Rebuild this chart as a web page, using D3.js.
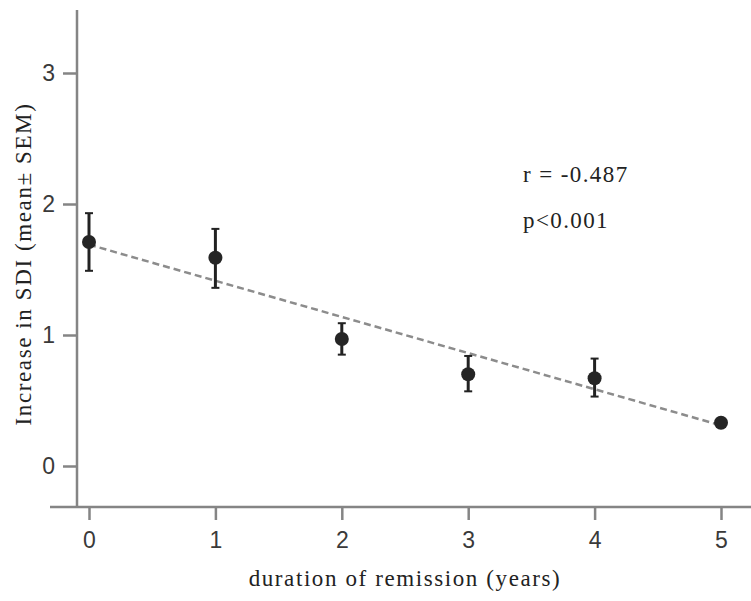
<!DOCTYPE html>
<html>
<head>
<meta charset="utf-8">
<script src="https://cdn.jsdelivr.net/npm/d3@7"></script>
<style>
  body { margin: 0; background: #fff; }
  .tick_lbl { font-family: "Liberation Sans", Arial, sans-serif; font-size: 23px; fill: #3a3a3a; }
  .ax_title { font-family: "Liberation Serif", "Times New Roman", serif; font-size: 23px; fill: #222; letter-spacing: 1.6px; }
  .stat { font-family: "Liberation Serif", "Times New Roman", serif; font-size: 23px; fill: #222; letter-spacing: 1.4px; }
</style>
</head>
<body>
<div id="chart"></div>
<script>
// data
var years = [0, 1, 2, 3, 4, 5];
var sdi_mean = [1.71, 1.59, 0.97, 0.70, 0.67, 0.33];
var sdi_upper = [1.93, 1.81, 1.09, 0.84, 0.82, 0.36];
var sdi_lower = [1.49, 1.36, 0.85, 0.57, 0.53, 0.30];
var fit_x = [0, 5];
var fit_y = [1.69, 0.31];
var x_ticks = [0, 1, 2, 3, 4, 5];
var y_ticks = [0, 1, 2, 3];
var stat_lines = ['r = -0.487', 'p<0.001'];

var width = 751, height = 601;
var svg = d3.select('#chart').append('svg').attr('width', width).attr('height', height);

var x_scale = d3.scaleLinear().domain([0, 5]).range([89, 721]);
var y_scale = d3.scaleLinear().domain([0, 3]).range([466, 73]);
var axis_col = '#858585';
var x_axis_y = 507, y_axis_x = 77;

// axes
var x_axis = svg.append('g').attr('transform', 'translate(0,' + x_axis_y + ')')
    .call(d3.axisBottom(x_scale).tickValues(x_ticks).tickSize(13).tickPadding(12).tickFormat(d3.format('d')));
x_axis.select('.domain').remove();
x_axis.append('line').attr('x1', 50).attr('x2', width).attr('y1', 0).attr('y2', 0);
var y_axis = svg.append('g').attr('transform', 'translate(' + y_axis_x + ',0)')
    .call(d3.axisLeft(y_scale).tickValues(y_ticks).tickSize(14).tickPadding(8).tickFormat(d3.format('d')));
y_axis.select('.domain').remove();
y_axis.append('line').attr('x1', 0).attr('x2', 0).attr('y1', 10).attr('y2', x_axis_y);
svg.selectAll('.tick line, g > line').attr('stroke', axis_col).attr('stroke-width', 2.5);
svg.selectAll('.tick text').attr('class', 'tick_lbl');

// regression line
svg.append('line')
    .attr('x1', x_scale(fit_x[0])).attr('y1', y_scale(fit_y[0]))
    .attr('x2', x_scale(fit_x[1])).attr('y2', y_scale(fit_y[1]))
    .attr('stroke', '#8c8c8c').attr('stroke-width', 2.5).attr('stroke-dasharray', '7,4');

// error bars + points
var g = svg.append('g');
years.forEach(function (yr, i) {
    var cx = x_scale(yr);
    g.append('line').attr('x1', cx).attr('x2', cx)
        .attr('y1', y_scale(sdi_upper[i])).attr('y2', y_scale(sdi_lower[i]))
        .attr('stroke', '#222').attr('stroke-width', 3);
    [sdi_upper[i], sdi_lower[i]].forEach(function (v) {
        g.append('line').attr('x1', cx - 4).attr('x2', cx + 4)
            .attr('y1', y_scale(v)).attr('y2', y_scale(v))
            .attr('stroke', '#222').attr('stroke-width', 2);
    });
    g.append('circle').attr('cx', cx).attr('cy', y_scale(sdi_mean[i])).attr('r', 7).attr('fill', '#252525');
});

// titles
svg.append('text').attr('class', 'ax_title').attr('x', 405).attr('y', 586)
    .attr('text-anchor', 'middle').text('duration of remission (years)');
svg.append('text').attr('class', 'ax_title')
    .attr('transform', 'translate(31,264) rotate(-90)')
    .attr('text-anchor', 'middle')
    .text('Increase in SDI (mean\u00b1 SEM)');

svg.selectAll('.stat').data(stat_lines).enter().append('text').attr('class', 'stat')
    .attr('x', 523).attr('y', function (d, i) { return 182 + i * 46; })
    .text(function (d) { return d; });
</script>
</body>
</html>
